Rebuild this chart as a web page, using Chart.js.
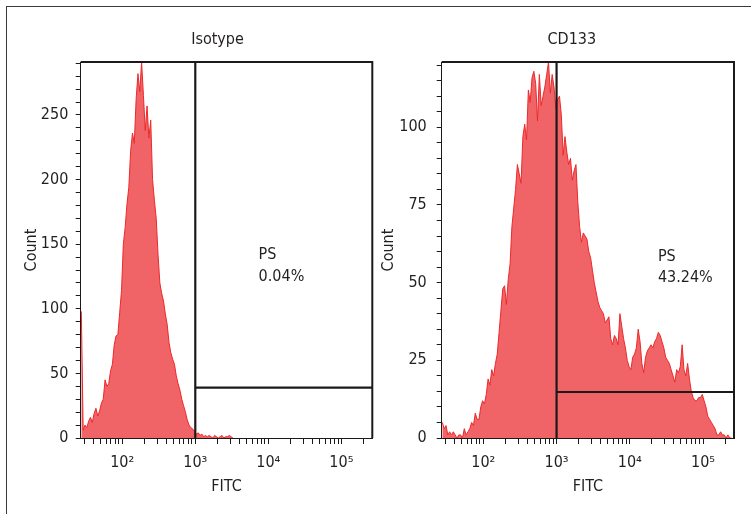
<!DOCTYPE html>
<html>
<head>
<meta charset="utf-8">
<script src="https://cdn.jsdelivr.net/npm/chart.js@4.4.1/dist/chart.umd.min.js"></script>
<style>
  html, body { margin: 0; padding: 0; background: #fff; overflow: hidden; }
  body { width: 751px; height: 514px; position: relative; }
  #frame { position: absolute; left: 6px; top: 6px; width: 760px; height: 520px;
           border-top: 1.5px solid #3a3a3a; border-left: 1.5px solid #3a3a3a; }
  .panel { position: absolute; top: 0; height: 514px; }
  #isoPanel { left: 0; width: 390px; }
  #cdPanel { left: 376px; width: 375px; }
</style>
</head>
<body>
<div id="frame"></div>
<div class="panel" id="isoPanel"><canvas id="isoChart"></canvas></div>
<div class="panel" id="cdPanel"><canvas id="cdChart"></canvas></div>
<script>
// histogram channels are log spaced: bin i sits at 10^(1.44 + 0.025 * i)
const binStartLog = 1.44;
const binStepLog = 0.025;

// counts per channel
const isotypeCounts = [
  98, 6, 10, 8, 13, 16, 12, 19, 23, 17,
  21, 27, 30, 45, 40, 42, 52, 57, 72, 79,
  80, 97, 114, 150, 163, 181, 194, 222, 236, 228,
  262, 282, 268, 291, 265, 238, 257, 232, 246, 200,
  184, 170, 142, 120, 112, 106, 96, 88, 74, 66,
  61, 57, 48, 42, 37, 30, 25, 20, 14, 10,
  8, 7, 5, 3, 4, 2, 3, 1, 2, 1,
  2, 1, 0, 2, 1, 0, 1, 2, 0, 1,
  1, 2, 1, 0
];
const cd133Counts = [
  5, 3, 4, 1, 2, 1, 2, 1, 0, 1,
  1, 0, 3, 1, 2, 3, 5, 4, 8, 6,
  6, 10, 12, 11, 14, 19, 17, 22, 20, 24,
  27, 34, 41, 48, 49, 43, 51, 56, 68, 74,
  80, 88, 85, 82, 97, 101, 96, 112, 108, 116,
  118, 114, 102, 117, 107, 110, 113, 117, 121, 111,
  117, 113, 106, 109, 110, 104, 91, 97, 92, 88,
  90, 83, 86, 88, 76, 68, 63, 66, 65, 64,
  60, 58, 54, 50, 47, 44, 42, 41, 40, 37,
  38, 39, 32, 30, 33, 32, 30, 40, 36, 32,
  29, 25, 23, 22, 26, 27, 29, 35, 31, 24,
  21, 26, 28, 29, 30, 29, 31, 32, 34, 33,
  31, 29, 26, 25, 24, 22, 20, 18, 22, 21,
  23, 30, 22, 20, 24, 19, 15, 13, 12, 12,
  13, 13, 14, 12, 10, 7, 6, 5, 4, 3,
  1, 1, 2, 1, 1, 0, 1, 0, 0
];

const fitcMin = 27;
const fitcMax = 265000;
const decadeValues = [100, 1000, 10000, 100000];
const decadeLabels = ['10²', '10³', '10⁴', '10⁵'];

const panelTitles = ['Isotype', 'CD133'];
const countMax = [291, 121];
const countStep = [10, 5];
const countLabelStep = [50, 25];
const gateStart = [1000, 1000];
const gateLevel = [39, 14.8];
const gateName = ['PS', 'PS'];
const gatePercent = ['0.04%', '43.24%'];

const FONT = "'DejaVu Sans Condensed', 'DejaVu Sans', sans-serif";
const FSIZE = 16;
const TEXT = '#231f20';
const INK = '#1a1a1a';

// frame on top/right, gate label and the panel title
const panelDecor = {
  id: 'panelDecor',
  afterDatasetsDraw(chart, args, opts) {
    const { ctx, chartArea: a, scales: { x, y } } = chart;
    ctx.save();
    ctx.strokeStyle = INK;
    ctx.lineWidth = 2;
    ctx.beginPath();
    ctx.moveTo(a.left, a.top);
    ctx.lineTo(a.right, a.top);
    ctx.lineTo(a.right, a.bottom);
    ctx.stroke();

    ctx.fillStyle = TEXT;
    ctx.font = FSIZE + 'px ' + FONT;
    ctx.textBaseline = 'middle';
    ctx.textAlign = 'left';
    const lx = x.getPixelForValue(opts.labelX);
    ctx.fillText(opts.name, lx, y.getPixelForValue(opts.nameY));
    ctx.fillText(opts.percent, lx, y.getPixelForValue(opts.percentY));

    ctx.textAlign = 'center';
    ctx.fillText(opts.title, (a.left + a.right) / 2 + opts.titleShift, 40);
    ctx.restore();
  }
};

function makePanel(canvasId, k, counts, look) {
  const bins = counts.map((c, i) => ({ x: Math.pow(10, binStartLog + binStepLog * i), y: c }));
  const top = countMax[k];

  return new Chart(document.getElementById(canvasId), {
    type: 'line',
    data: {
      datasets: [
        {
          data: bins,
          fill: 'origin',
          backgroundColor: 'rgb(240, 99, 103)',
          borderColor: 'rgb(236, 42, 42)',
          borderWidth: 1,
          pointRadius: 0,
          order: 2
        },
        {
          data: [{ x: gateStart[k], y: 0 }, { x: gateStart[k], y: top }],
          borderColor: INK, borderWidth: 2.2, pointRadius: 0, fill: false, order: 1
        },
        {
          data: [{ x: gateStart[k], y: gateLevel[k] }, { x: fitcMax, y: gateLevel[k] }],
          borderColor: INK, borderWidth: 2.2, pointRadius: 0, fill: false, order: 1
        }
      ]
    },
    options: {
      responsive: true,
      maintainAspectRatio: false,
      animation: false,
      events: [],
      layout: { padding: { left: 0, right: look.padRight, top: 62, bottom: 0 } },
      plugins: {
        legend: { display: false },
        tooltip: { enabled: false },
        panelDecor: {
          title: panelTitles[k], titleShift: look.titleShift,
          name: gateName[k], percent: gatePercent[k],
          labelX: look.labelX, nameY: look.nameY, percentY: look.percentY
        }
      },
      scales: {
        x: {
          type: 'logarithmic',
          min: fitcMin,
          max: fitcMax,
          afterBuildTicks(scale) {
            const t = [];
            for (let e = 1; e <= 5; e++) {
              for (let m = 1; m <= 9; m++) {
                const v = m * Math.pow(10, e);
                if (v >= fitcMin && v <= fitcMax) t.push({ value: v });
              }
            }
            scale.ticks = t;
          },
          afterFit(scale) { scale.height = 76; },
          grid: { drawOnChartArea: false, drawTicks: true, tickLength: 6, color: INK },
          border: { display: true, color: INK, width: 1 },
          ticks: {
            autoSkip: false,
            maxRotation: 0,
            padding: 9,
            color: TEXT,
            font: { family: FONT, size: FSIZE },
            callback(v) {
              const j = decadeValues.indexOf(v);
              return j >= 0 ? decadeLabels[j] : '';
            }
          },
          title: {
            display: true, text: 'FITC', color: TEXT,
            font: { family: FONT, size: FSIZE },
            padding: { top: 0, bottom: 17.4 }
          }
        },
        y: {
          min: 0,
          max: top,
          afterFit(scale) { scale.width = look.axisWidth; },
          grid: { drawOnChartArea: false, drawTicks: true, tickLength: 5, color: INK },
          border: { display: true, color: INK, width: 1 },
          ticks: {
            stepSize: countStep[k],
            includeBounds: false,
            autoSkip: false,
            padding: look.tickPad,
            color: TEXT,
            font: { family: FONT, size: FSIZE },
            callback(v) { return v % countLabelStep[k] === 0 ? String(v) : ''; }
          },
          title: {
            display: true, text: 'Count', color: TEXT,
            font: { family: FONT, size: FSIZE },
            padding: { top: look.titlePad, bottom: 0 }
          }
        }
      }
    },
    plugins: [panelDecor]
  });
}

makePanel('isoChart', 0, isotypeCounts, {
  padRight: 17.7, axisWidth: 80.7, tickPad: 7.4, titlePad: 22.4, titleShift: -9,
  labelX: 7360, nameY: 142, percentY: 124.6
});
makePanel('cdChart', 1, cd133Counts, {
  padRight: 17, axisWidth: 65.7, tickPad: 10, titlePad: 3.4, titleShift: -16,
  labelX: 24200, nameY: 58.3, percentY: 51.4
});
</script>
</body>
</html>
